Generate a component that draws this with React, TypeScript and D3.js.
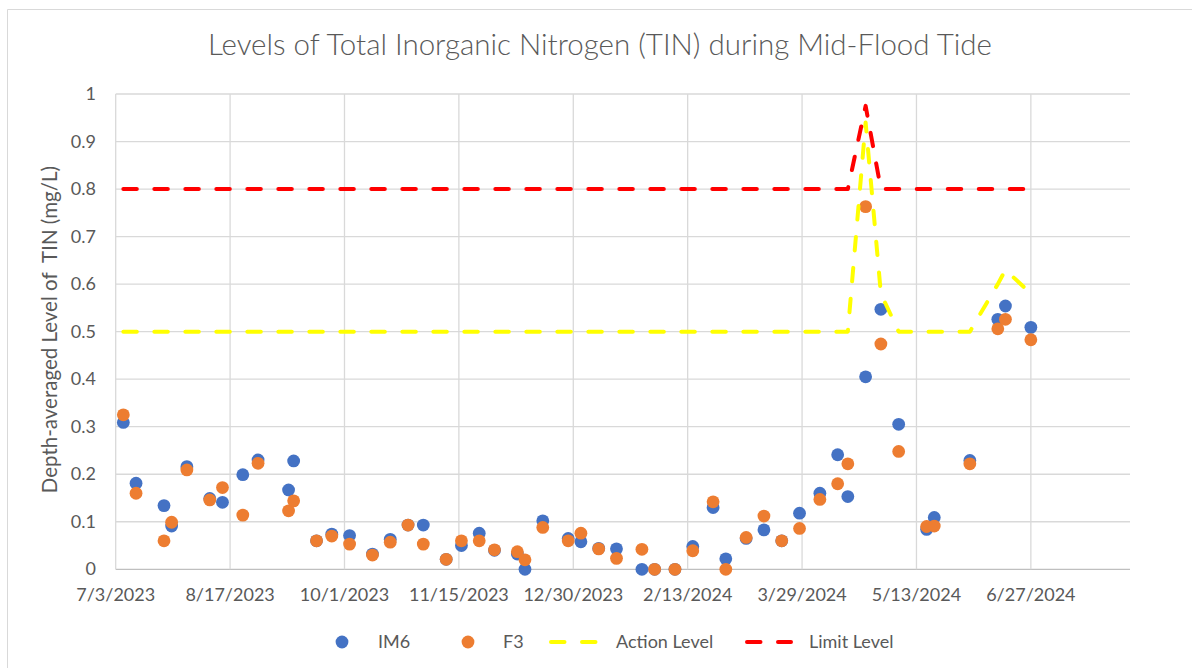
import * as d3 from "d3";
import { useEffect, useRef } from "react";

// sampling dates (mid-flood tide)
const dates = [
  "7/6/2023", "7/11/2023", "7/22/2023", "7/25/2023", "7/31/2023", "8/9/2023", "8/14/2023",
  "8/22/2023", "8/28/2023", "9/9/2023", "9/11/2023", "9/20/2023", "9/26/2023", "10/3/2023",
  "10/12/2023", "10/19/2023", "10/26/2023", "11/1/2023", "11/10/2023", "11/16/2023", "11/23/2023",
  "11/29/2023", "12/8/2023", "12/11/2023", "12/18/2023", "12/28/2023", "1/2/2024", "1/9/2024",
  "1/16/2024", "1/26/2024", "1/31/2024", "2/8/2024", "2/15/2024", "2/23/2024", "2/28/2024",
  "3/7/2024", "3/14/2024", "3/21/2024", "3/28/2024", "4/5/2024", "4/12/2024", "4/16/2024",
  "4/23/2024", "4/29/2024", "5/6/2024", "5/17/2024", "5/20/2024", "6/3/2024", "6/14/2024",
  "6/17/2024", "6/27/2024",
];

const im6 = [
  0.309, 0.181, 0.134, 0.091, 0.216, 0.149, 0.141,
  0.199, 0.230, 0.167, 0.228, 0.060, 0.074, 0.071,
  0.032, 0.063, 0.093, 0.093, 0.021, 0.050, 0.076,
  0.040, 0.032, 0.000, 0.102, 0.065, 0.058, 0.044,
  0.043, 0.000, 0.000, 0.000, 0.048, 0.130, 0.022,
  0.065, 0.083, 0.060, 0.118, 0.160, 0.241, 0.153,
  0.405, 0.547, 0.305, 0.084, 0.109, 0.229, 0.526,
  0.554, 0.509,
];

const f3 = [
  0.325, 0.160, 0.060, 0.099, 0.209, 0.146, 0.172,
  0.114, 0.223, 0.123, 0.144, 0.060, 0.070, 0.053,
  0.030, 0.057, 0.093, 0.053, 0.021, 0.060, 0.060,
  0.041, 0.037, 0.020, 0.088, 0.060, 0.076, 0.043,
  0.023, 0.042, 0.000, 0.000, 0.039, 0.142, 0.000,
  0.067, 0.112, 0.060, 0.086, 0.147, 0.180, 0.222,
  0.763, 0.474, 0.248, 0.090, 0.091, 0.222, 0.506,
  0.526, 0.483,
];

const actionLevel = [
  0.5, 0.5, 0.5, 0.5, 0.5, 0.5, 0.5,
  0.5, 0.5, 0.5, 0.5, 0.5, 0.5, 0.5,
  0.5, 0.5, 0.5, 0.5, 0.5, 0.5, 0.5,
  0.5, 0.5, 0.5, 0.5, 0.5, 0.5, 0.5,
  0.5, 0.5, 0.5, 0.5, 0.5, 0.5, 0.5,
  0.5, 0.5, 0.5, 0.5, 0.5, 0.5, 0.5,
  0.94, 0.58, 0.5, 0.5, 0.5, 0.5, 0.6,
  0.63, 0.58,
];

const limitLevel = [
  0.8, 0.8, 0.8, 0.8, 0.8, 0.8, 0.8,
  0.8, 0.8, 0.8, 0.8, 0.8, 0.8, 0.8,
  0.8, 0.8, 0.8, 0.8, 0.8, 0.8, 0.8,
  0.8, 0.8, 0.8, 0.8, 0.8, 0.8, 0.8,
  0.8, 0.8, 0.8, 0.8, 0.8, 0.8, 0.8,
  0.8, 0.8, 0.8, 0.8, 0.8, 0.8, 0.8,
  0.975, 0.8, 0.8, 0.8, 0.8, 0.8, 0.8,
  0.8, 0.8,
];

const xTickLabels = [
  "7/3/2023", "8/17/2023", "10/1/2023", "11/15/2023", "12/30/2023",
  "2/13/2024", "3/29/2024", "5/13/2024", "6/27/2024",
];
const xDomain = ["7/3/2023", "8/5/2024"];
const yTicks = [0, 0.1, 0.2, 0.3, 0.4, 0.5, 0.6, 0.7, 0.8, 0.9, 1];

const title = "Levels of Total Inorganic Nitrogen (TIN) during Mid-Flood Tide";
const yTitle = "Depth-averaged Level of  TIN (mg/L)";

const App = () => {
  const svgRef = useRef(null);

  const width = 1192;
  const height = 668;
  const plot = { left: 115.7, right: 1130, top: 94, bottom: 569.3 };
  const font = "Lato, 'Open Sans', sans-serif";
  const textColor = "#595959";
  const gridColor = "#d9d9d9";

  useEffect(() => {
    const svg = d3.select(svgRef.current);
    svg.selectAll("*").remove();

    const parse = d3.utcParse("%m/%d/%Y");
    const x = d3.scaleUtc().domain(xDomain.map(parse)).range([plot.left, plot.right]);
    const y = d3.scaleLinear().domain([0, 1]).range([plot.bottom, plot.top]);

    // рамка диаграммы
    svg.append("path")
      .attr("d", `M7.5,${height + 5} V9.5 H${width + 5}`)
      .attr("fill", "none")
      .attr("stroke", gridColor);

    // заголовок
    svg.append("text")
      .attr("x", 600)
      .attr("y", 55)
      .attr("text-anchor", "middle")
      .style("font-family", font)
      .style("font-weight", 300)
      .style("font-size", "29.5px")
      .style("fill", textColor)
      .text(title);

    // сетка
    const g = svg.append("g");
    g.selectAll(".hgrid")
      .data(yTicks)
      .enter()
      .append("line")
      .attr("x1", plot.left)
      .attr("x2", plot.right)
      .attr("y1", d => y(d))
      .attr("y2", d => y(d))
      .attr("stroke", d => (d === 0 ? "#bfbfbf" : gridColor))
      .attr("stroke-width", 1.3);

    g.selectAll(".vgrid")
      .data(xTickLabels)
      .enter()
      .append("line")
      .attr("x1", d => x(parse(d)))
      .attr("x2", d => x(parse(d)))
      .attr("y1", plot.top)
      .attr("y2", plot.bottom)
      .attr("stroke", gridColor)
      .attr("stroke-width", 1.3);

    // подписи делений
    g.selectAll(".ylab")
      .data(yTicks)
      .enter()
      .append("text")
      .attr("x", 96)
      .attr("y", d => y(d) + 6)
      .attr("text-anchor", "end")
      .style("font-family", font)
      .style("font-size", "18px")
      .style("fill", textColor)
      .text(d => d3.format("~g")(d));

    g.selectAll(".xlab")
      .data(xTickLabels)
      .enter()
      .append("text")
      .attr("x", d => x(parse(d)))
      .attr("y", 601)
      .attr("text-anchor", "middle")
      .style("font-family", font)
      .style("font-size", "18px")
      .style("fill", textColor)
      .text(d => d);

    // название оси Y
    svg.append("text")
      .attr("transform", `translate(57, ${(plot.top + plot.bottom) / 2 - 2}) rotate(-90)`)
      .attr("text-anchor", "middle")
      .style("font-family", font)
      .style("font-size", "20.5px")
      .style("white-space", "pre")
      .style("fill", textColor)
      .text(yTitle);

    // точки
    const points = dates.map((d, i) => ({ date: parse(d), im6: im6[i], f3: f3[i] }));
    g.selectAll(".dot-im6")
      .data(points)
      .enter()
      .append("circle")
      .attr("cx", d => x(d.date))
      .attr("cy", d => y(d.im6))
      .attr("r", 6.4)
      .style("fill", "#4472C4");
    g.selectAll(".dot-f3")
      .data(points)
      .enter()
      .append("circle")
      .attr("cx", d => x(d.date))
      .attr("cy", d => y(d.f3))
      .attr("r", 6.4)
      .style("fill", "#ED7D31");

    // линии Action / Limit
    const levels = [
      { values: actionLevel, color: "#FFFF00" },
      { values: limitLevel, color: "#FF0000" },
    ];
    levels.forEach(lv => {
      const line = d3.line()
        .x((d, i) => x(parse(dates[i])))
        .y(d => y(d));
      g.append("path")
        .attr("d", line(lv.values))
        .attr("fill", "none")
        .attr("stroke", lv.color)
        .attr("stroke-width", 4)
        .attr("stroke-linecap", "round")
        .attr("stroke-linejoin", "round")
        .attr("stroke-dasharray", "13.5,17.5");
    });

    // легенда
    const ly = 642;
    const legend = svg.append("g");
    legend.append("circle").attr("cx", 342).attr("cy", ly).attr("r", 6.4).style("fill", "#4472C4");
    legend.append("circle").attr("cx", 468).attr("cy", ly).attr("r", 6.4).style("fill", "#ED7D31");
    [
      { x1: 551, x2: 599, color: "#FFFF00" },
      { x1: 747, x2: 791, color: "#FF0000" },
    ].forEach(s => {
      legend.append("line")
        .attr("x1", s.x1).attr("x2", s.x2)
        .attr("y1", ly).attr("y2", ly)
        .attr("stroke", s.color)
        .attr("stroke-width", 4)
        .attr("stroke-linecap", "round")
        .attr("stroke-dasharray", "13.5,17.5");
    });
    [
      { x: 378, label: "IM6" },
      { x: 503, label: "F3" },
      { x: 616, label: "Action Level" },
      { x: 809, label: "Limit Level" },
    ].forEach(t => {
      legend.append("text")
        .attr("x", t.x)
        .attr("y", ly + 6)
        .style("font-family", font)
        .style("font-size", "18px")
        .style("fill", textColor)
        .text(t.label);
    });
  }, []);

  return (
    <svg
      ref={svgRef}
      width={width}
      height={height}
      style={{ position: "absolute", left: 0, top: 0, background: "#fff" }}
    ></svg>
  );
};

export default App;
